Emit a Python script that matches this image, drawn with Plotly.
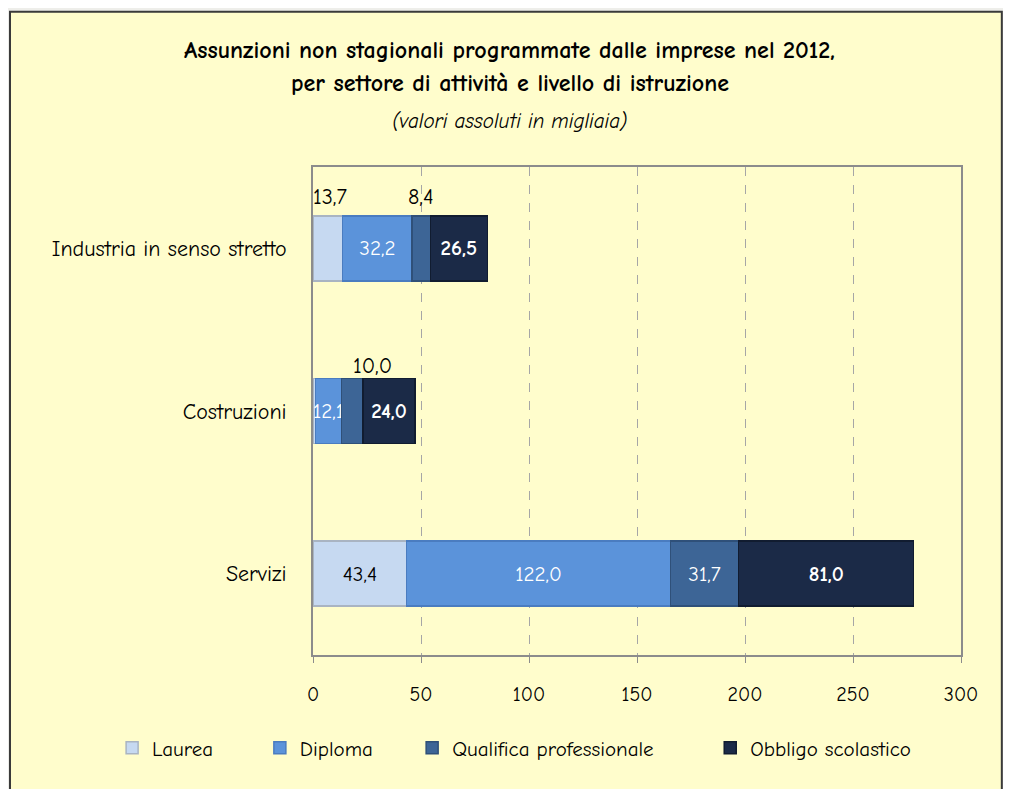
import plotly.graph_objects as go

categories = ["Industria in senso stretto", "Costruzioni", "Servizi"]
series_names = ["Laurea", "Diploma", "Qualifica professionale", "Obbligo scolastico"]
laurea = [13.7, 1.1, 43.4]
diploma = [32.2, 12.1, 122.0]
qualifica = [8.4, 10.0, 31.7]
obbligo = [26.5, 24.0, 81.0]
x_ticks = [0, 50, 100, 150, 200, 250, 300]

values = [laurea, diploma, qualifica, obbligo]
colors = ["#C6D9F1", "#5B93DA", "#3D6596", "#1B2A47"]
line_colors = ["#A9B4C2", "#4A7CC0", "#2F5079", "#111C30"]
text_colors = ["#000000", "#FFFFFF", "#FFFFFF", "#FFFFFF"]
bold = [False, False, False, True]

# labels drawn outside (above) the bar for small segments, or hidden
outside = {(0, 0), (2, 0), (2, 1), (0, 1)}

FONT = "Comic Sans MS, Comic Neue, DejaVu Sans, sans-serif"

def fmt(v):
    return f"{v:.1f}".replace(".", ",")

fig = go.Figure()
legend_ids = ["legend", "legend2", "legend3", "legend4"]
legend_x = [-0.310, -0.082, 0.153, 0.613]

for si, (name, vals) in enumerate(zip(series_names, values)):
    texts = []
    for ci, v in enumerate(vals):
        if (si, ci) in outside:
            texts.append("")
        else:
            t = fmt(v)
            texts.append(f"<b>{t}</b>" if bold[si] else t)
    fig.add_trace(go.Bar(
        y=categories, x=vals, name=name, orientation="h",
        marker=dict(color=colors[si], line=dict(color=line_colors[si], width=1.5)),
        text=texts, textposition="inside", insidetextanchor="middle",
        constraintext="none", textangle=0,
        textfont=dict(family=FONT, size=21, color=text_colors[si]),
        width=0.4, legend=legend_ids[si], hoverinfo="x+name",
    ))

# outside labels via annotations (data coordinates)
shifts = {(0, 0): (2, 51), (2, 0): (0, 51), (2, 1): (20, 45)}
for (si, ci), (xs, ys) in shifts.items():
    start = sum(values[k][ci] for k in range(si))
    mid = start + values[si][ci] / 2
    fig.add_annotation(x=mid, y=categories[ci], text=fmt(values[si][ci]),
                       showarrow=False, xshift=xs, yshift=ys,
                       font=dict(family=FONT, size=22, color="#000000"))

# chart box (yellow panel with dark border)
fig.add_shape(type="rect", xref="paper", yref="paper",
              x0=-0.4676, x1=1.063, y0=-0.32, y1=1.318,
              fillcolor="#FFFDCC", line=dict(color="#3A3A3A", width=2),
              layer="below")

title_x = 0.304
fig.add_annotation(xref="paper", yref="paper", x=title_x, y=1.2398,
                   xanchor="center", yanchor="middle",
                   text="<b>Assunzioni non stagionali programmate dalle imprese nel 2012,</b>",
                   showarrow=False, font=dict(family=FONT, size=24, color="#000000"))
fig.add_annotation(xref="paper", yref="paper", x=title_x, y=1.172,
                   xanchor="center", yanchor="middle",
                   text="<b>per settore di attività e livello di istruzione</b>",
                   showarrow=False, font=dict(family=FONT, size=24, color="#000000"))
fig.add_annotation(xref="paper", yref="paper", x=title_x, y=1.0943,
                   xanchor="center", yanchor="middle",
                   text="<i>(valori assoluti in migliaia)</i>",
                   showarrow=False, font=dict(family=FONT, size=21, color="#000000"))

legend_common = dict(orientation="h", yanchor="middle", y=-0.1906, xanchor="left",
                     font=dict(family=FONT, size=21, color="#000000"),
                     bgcolor="rgba(0,0,0,0)", itemwidth=30)
layout_legends = {}
for lid, lx in zip(legend_ids, legend_x):
    layout_legends[lid] = dict(legend_common, x=lx)

fig.update_layout(
    width=995, height=781,
    margin=dict(l=305, r=42, t=159, b=134),
    paper_bgcolor="#EEEEEA", plot_bgcolor="#FFFDCC",
    barmode="stack", bargap=0.6,
    font=dict(family=FONT, color="#000000"),
    showlegend=True,
    **layout_legends,
    xaxis=dict(range=[0, 300], tickvals=x_ticks, ticktext=[str(t) for t in x_ticks],
               showgrid=True, gridcolor="#A6A6A6", griddash="dash", gridwidth=1,
               showline=True, linecolor="#8C8C8C", linewidth=2, mirror=True,
               ticks="outside", ticklen=6, tickcolor="#8C8C8C",
               ticklabelstandoff=14, zeroline=False,
               tickfont=dict(family=FONT, size=20, color="#000000")),
    yaxis=dict(categoryorder="array", categoryarray=categories[::-1],
               range=[-0.5, 2.5], showgrid=False,
               showline=True, linecolor="#8C8C8C", linewidth=2, mirror=True,
               ticks="", ticklabelstandoff=20,
               tickfont=dict(family=FONT, size=22, color="#000000")),
)

fig.write_html("out.html")
